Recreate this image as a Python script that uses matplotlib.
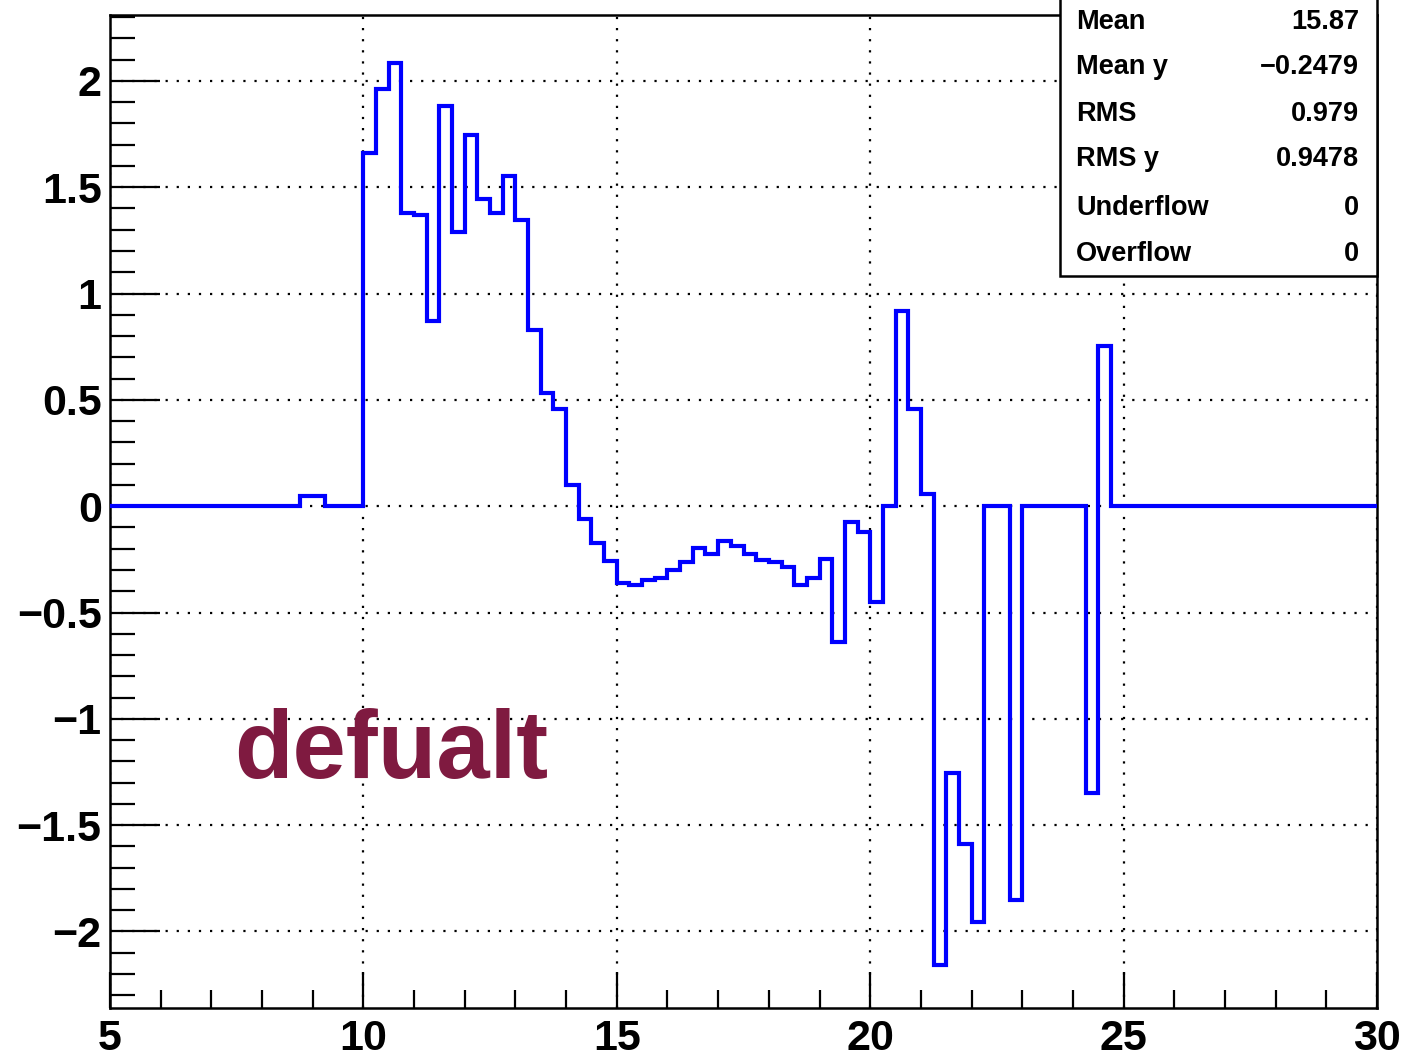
import numpy as np
import matplotlib.pyplot as plt
from matplotlib.patches import Rectangle
from matplotlib.ticker import MultipleLocator

plt.rcParams['font.family'] = ['Liberation Sans', 'DejaVu Sans']

# histogram: 100 bins of width 0.25 from 5 to 30
x_min, x_max, n_bins = 5.0, 30.0, 100
bin_values = [
    0, 0, 0, 0, 0, 0, 0, 0, 0, 0, 0, 0, 0, 0, 0,          # 5.00 - 8.75
    0.05, 0.05, 0, 0, 0,                                  # 8.75 - 10.0
    1.66, 1.96, 2.085, 1.38, 1.37, 0.87, 1.88, 1.29,      # 10.0 - 12.0
    1.745, 1.445, 1.38, 1.555, 1.345, 0.83, 0.53, 0.455,  # 12.0 - 14.0
    0.10, -0.058, -0.172, -0.259, -0.359, -0.373, -0.348, -0.336,  # 14.0 - 16.0
    -0.298, -0.262, -0.199, -0.223, -0.163, -0.187, -0.226, -0.251,  # 16.0 - 18.0
    -0.262, -0.285, -0.372, -0.337, -0.249, -0.638, -0.074, -0.121,  # 18.0 - 20.0
    -0.45, 0, 0.917, 0.455, 0.055, -2.156, -1.253, -1.591,  # 20.0 - 22.0
    -1.955, 0, 0, -1.853, 0, 0, 0, 0,                     # 22.0 - 24.0
    0, -1.351, 0.754,                                     # 24.0 - 24.75
    0, 0, 0, 0, 0, 0, 0, 0, 0, 0, 0, 0, 0, 0, 0, 0, 0, 0, 0, 0, 0,  # 24.75 - 30
]
edges = np.linspace(x_min, x_max, n_bins + 1)

stat_names = ['Mean', 'Mean y', 'RMS', 'RMS y', 'Underflow', 'Overflow']
stat_values = ['15.87', '\u22120.2479', '0.979', '0.9478', '0', '0']

fig = plt.figure(figsize=(14.05, 10.59), dpi=100)
ax = fig.add_axes([110 / 1405, 1 - 1008 / 1059, 1267 / 1405, 993 / 1059])

ax.stairs(bin_values, edges, baseline=None, color='#0000ff', lw=3.0, zorder=3)

ax.set_xlim(x_min, x_max)
ax.set_ylim(-2.36, 2.31)

ax.xaxis.set_major_locator(MultipleLocator(5))
ax.xaxis.set_minor_locator(MultipleLocator(1))
ax.yaxis.set_major_locator(MultipleLocator(0.5))
ax.yaxis.set_minor_locator(MultipleLocator(0.1))
ax.tick_params(axis='both', which='both', direction='in', top=False, right=False,
               width=1.6, color='black')
ax.tick_params(axis='x', which='major', length=26, labelsize=31, pad=8)
ax.tick_params(axis='x', which='minor', length=13)
ax.tick_params(axis='y', which='major', length=36, labelsize=31, pad=6)
ax.tick_params(axis='y', which='minor', length=18)
for lab in ax.get_xticklabels() + ax.get_yticklabels():
    lab.set_fontweight('bold')
ax.yaxis.set_major_formatter(plt.FuncFormatter(
    lambda v, p: ('%g' % v).replace('-', '\u2212')))

ax.grid(True, which='major', color='black', linestyle=(0, (1, 4)), lw=1.6)
for s in ax.spines.values():
    s.set_linewidth(1.8)

ax.text(7.44, -1.28, 'defualt', color='#7f1a40', fontsize=69,
        fontweight='bold', ha='left', va='baseline')

# statistics box
fig.patches.append(Rectangle((1060 / 1405, 1 - 276 / 1059), 317 / 1405, 290 / 1059,
                             transform=fig.transFigure, facecolor='white',
                             edgecolor='black', lw=1.8, zorder=5))
row_y = [22, 67, 114, 159, 208, 254]
for name, val, ry in zip(stat_names, stat_values, row_y):
    fig.text(1076 / 1405, 1 - ry / 1059, name, fontsize=19.5, fontweight='bold',
             ha='left', va='center', zorder=6)
    fig.text(1359 / 1405, 1 - ry / 1059, val, fontsize=19.5, fontweight='bold',
             ha='right', va='center', zorder=6)

fig.savefig('out.png', dpi=100)
